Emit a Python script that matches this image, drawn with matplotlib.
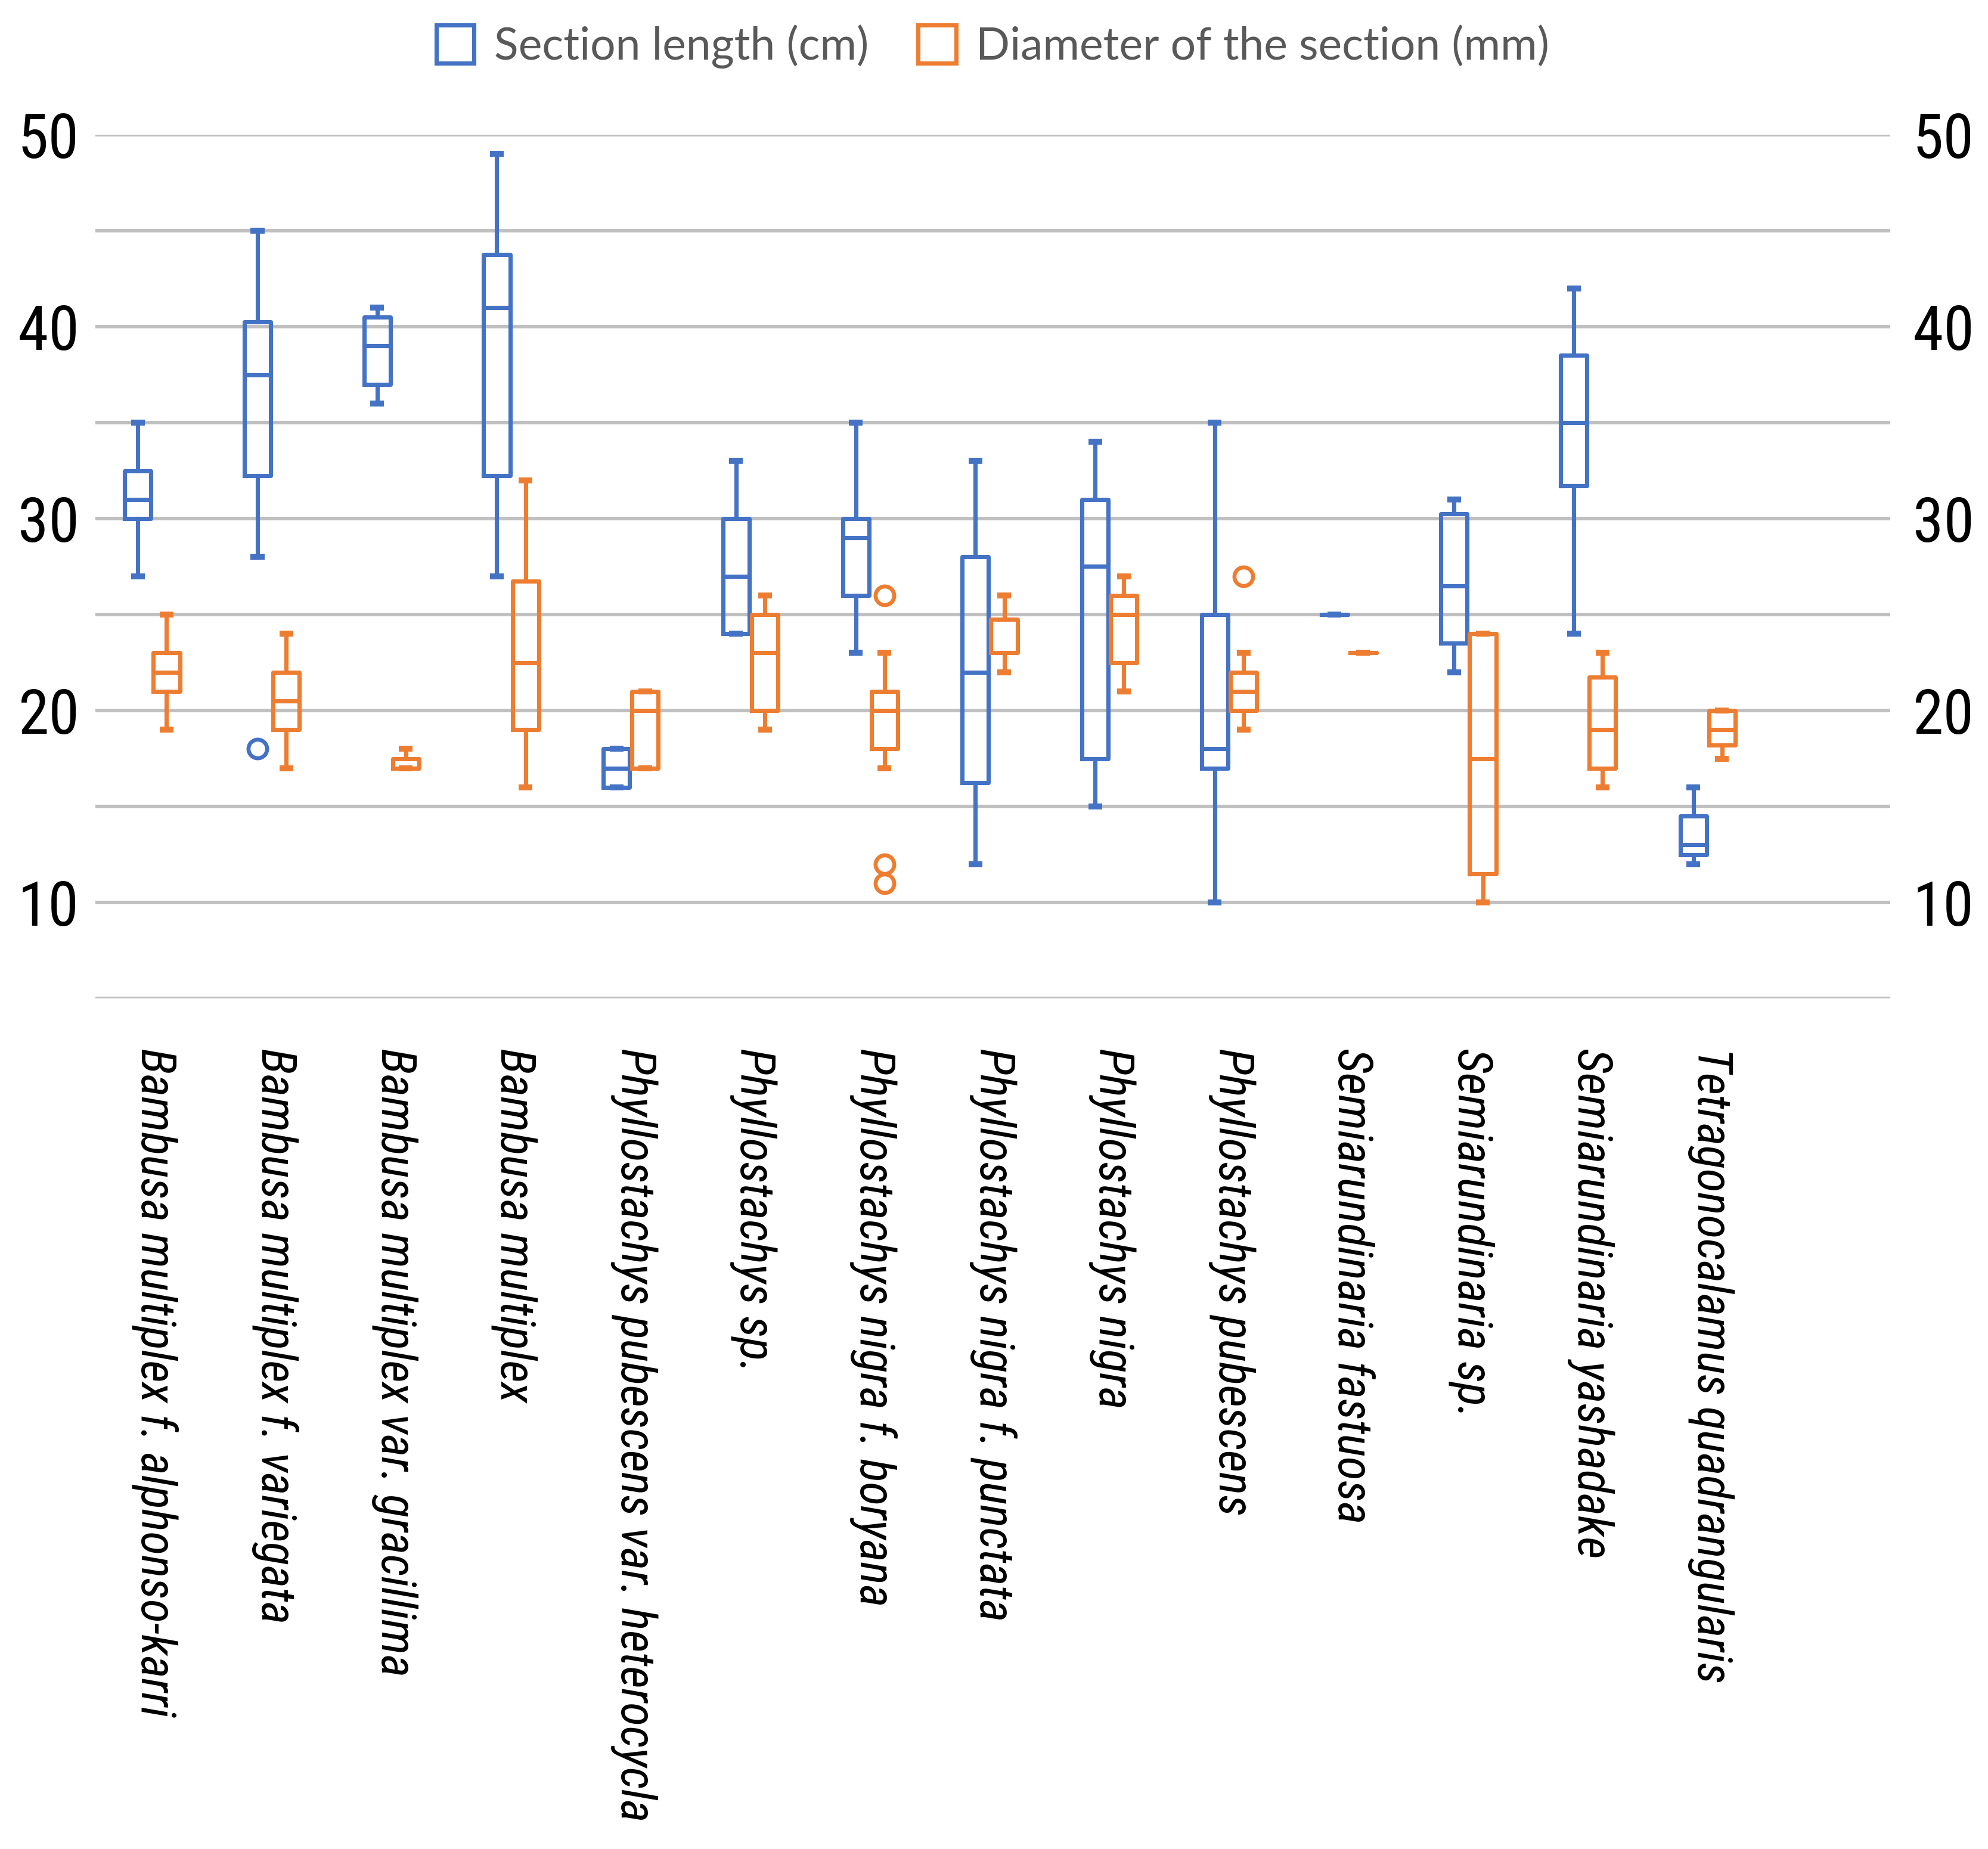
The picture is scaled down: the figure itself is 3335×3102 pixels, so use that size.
import matplotlib
matplotlib.use("Agg")
import matplotlib.pyplot as plt
from matplotlib.patches import Patch
from matplotlib import font_manager

species = [
    "Bambusa multiplex f. alphonso-karri",
    "Bambusa multiplex f. variegata",
    "Bambusa multiplex var. gracillima",
    "Bambusa multiplex",
    "Phyllostachys pubescens var. heterocycla",
    "Phyllostachys sp.",
    "Phyllostachys nigra f. boryana",
    "Phyllostachys nigra f. punctata",
    "Phyllostachys nigra",
    "Phyllostachys pubescens",
    "Semiarundinaria fastuosa",
    "Semiarundinaria sp.",
    "Semiarundinaria yashadake",
    "Tetragonocalamus quadrangularis",
]

# Section length (cm): whisker low, Q1, median, Q3, whisker high, outliers
len_lo = [27, 28, 36, 27, 16, 24, 23, 12, 15, 10, 25, 22, 24, 12]
len_q1 = [30, 32.25, 37, 32.25, 16, 24, 26, 16.25, 17.5, 17, 25, 23.5, 31.7, 12.5]
len_med = [31, 37.5, 39, 41, 17, 27, 29, 22, 27.5, 18, 25, 26.5, 35, 13]
len_q3 = [32.5, 40.25, 40.5, 43.75, 18, 30, 30, 28, 31, 25, 25, 30.25, 38.5, 14.5]
len_hi = [35, 45, 41, 49, 18, 33, 35, 33, 34, 35, 25, 31, 42, 16]
len_out = [[], [18], [], [], [], [], [], [], [], [], [], [], [], []]

# Diameter of the section (mm)
dia_lo = [19, 17, 17, 16, 17, 19, 17, 22, 21, 19, 23, 10, 16, 17.5]
dia_q1 = [21, 19, 17, 19, 17, 20, 18, 23, 22.5, 20, 23, 11.5, 17, 18.2]
dia_med = [22, 20.5, 17, 22.5, 20, 23, 20, 24.75, 25, 21, 23, 17.5, 19, 19]
dia_q3 = [23, 22, 17.5, 26.75, 21, 25, 21, 24.75, 26, 22, 23, 24, 21.75, 20]
dia_hi = [25, 24, 18, 32, 21, 26, 23, 26, 27, 23, 23, 24, 23, 20]
dia_out = [[], [], [], [], [], [], [26, 12, 11], [], [], [27], [], [], [], []]

yticks = [10, 20, 30, 40, 50]

blue = "#4472C4"
orange = "#ED7D31"

# pick a narrow font if one is around
fonts = font_manager.fontManager.ttflist
names = {f.name for f in fonts}
stretch = "normal"
if "Liberation Sans Narrow" in names:
    narrow = "Liberation Sans Narrow"
elif "Roboto Condensed" in names:
    narrow = "Roboto Condensed"
elif any(f.name == "DejaVu Sans" and "condensed" in str(f.stretch) for f in fonts):
    narrow = "DejaVu Sans"
    stretch = "condensed"
else:
    narrow = "Roboto" if "Roboto" in names else "DejaVu Sans"
legend_font = "Lato" if "Lato" in names else "DejaVu Sans"

W, H = 3335, 3102
fig = plt.figure(figsize=(W / 300, H / 300), dpi=300)
ax = fig.add_axes([160 / W, 1 - 1675 / H, (3171 - 160) / W, (1675 - 226) / H])


def stats(lo, q1, med, q3, hi, out):
    return [dict(whislo=a, q1=b, med=c, q3=d, whishi=e, fliers=f)
            for a, b, c, d, e, f in zip(lo, q1, med, q3, hi, out)]


for st, off, col in [
    (stats(len_lo, len_q1, len_med, len_q3, len_hi, len_out), -0.145, blue),
    (stats(dia_lo, dia_q1, dia_med, dia_q3, dia_hi, dia_out), 0.095, orange),
]:
    pos = [i + off for i in range(len(st))]
    lw = 1.7
    ax.bxp(st, positions=pos, widths=0.22, showfliers=True,
           capwidths=0.065,
           boxprops=dict(color=col, linewidth=lw),
           medianprops=dict(color=col, linewidth=lw),
           whiskerprops=dict(color=col, linewidth=lw),
           capprops=dict(color=col, linewidth=2.4),
           flierprops=dict(marker="o", markerfacecolor="none", markeredgecolor=col,
                           markersize=7.5, markeredgewidth=1.6))

ax.set_xlim(-0.5, 14.5)
ax.set_ylim(5, 50)
for v in range(5, 51, 5):
    ax.axhline(v, color="#BFBFBF", linewidth=1.4, zorder=0)

ax2 = ax.twinx()
ax2.set_ylim(5, 50)
for a, pad in [(ax, 6.5), (ax2, 9)]:
    a.set_yticks(yticks)
    a.set_yticklabels([str(v) for v in yticks], fontfamily=narrow, fontstretch=stretch, fontsize=25)
    a.tick_params(axis="y", length=0, pad=pad)
    for s in a.spines.values():
        s.set_visible(False)

ax.set_xticks(range(len(species)))
xlabs = ax.set_xticklabels(species, rotation=270, fontfamily=narrow, fontstretch=stretch,
                           fontstyle="italic", fontsize=21)
ax.tick_params(axis="x", length=0, pad=20)

# scale the label size so the longest name is about as long as in the original (~1300 px)
fig.canvas.draw()
r = fig.canvas.get_renderer()
longest = max(t.get_window_extent(r).height for t in xlabs)
xs = 21 * 1300 / longest
for t in ax.get_xticklabels():
    t.set_fontsize(xs)

handles = [Patch(facecolor="white", edgecolor=blue, linewidth=1.7, label="Section length (cm)"),
           Patch(facecolor="white", edgecolor=orange, linewidth=1.7, label="Diameter of the section (mm)")]
leg = fig.legend(handles=handles, loc="center", bbox_to_anchor=((160 + 3171) / 2 / W, 1 - 78 / H),
                 ncol=2, frameon=False, handlelength=0.85, handleheight=0.95, handletextpad=0.45,
                 columnspacing=1.1, prop=dict(family=legend_font, size=18))
for t in leg.get_texts():
    t.set_color("#595959")

fig.savefig("out.png", dpi=300)
